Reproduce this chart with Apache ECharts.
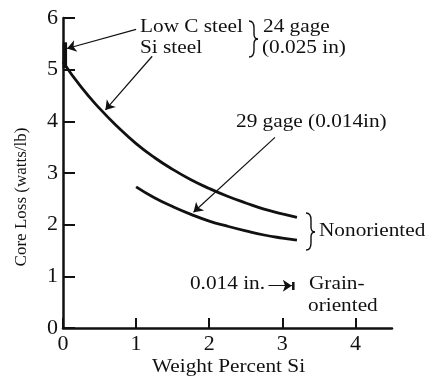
<!DOCTYPE html>
<html>
<head>
<meta charset="utf-8">
<script src="https://cdn.jsdelivr.net/npm/echarts@6/dist/echarts.min.js"></script>
<style>
  html, body { margin: 0; padding: 0; background: #fff; }
  #chart { width: 428px; height: 378px; }
</style>
</head>
<body>
<div id="chart"></div>
<script>
// Core loss vs. silicon content, 24 gage (0.025 in) sheet
const siPct24 = [0, 0.25, 0.5, 0.75, 1.0, 1.25, 1.5, 1.75, 2.0, 2.25, 2.5, 2.75, 3.0, 3.2];
const loss24  = [5.15, 4.66, 4.25, 3.89, 3.57, 3.30, 3.07, 2.87, 2.70, 2.55, 2.42, 2.30, 2.21, 2.14];

// Core loss vs. silicon content, 29 gage (0.014 in) sheet
const siPct29 = [1.0, 1.25, 1.5, 1.75, 2.0, 2.25, 2.5, 2.75, 3.0, 3.2];
const loss29  = [2.73, 2.52, 2.35, 2.20, 2.07, 1.97, 1.88, 1.80, 1.74, 1.70];

// Low-carbon steel loss range at 0 % Si
const lowCRange = [[0.025, 5.03], [0.025, 5.53]];

// Grain-oriented 0.014 in. point marker
const grainBar = [[3.15, 0.735], [3.15, 0.89]];

// Leader arrows [from, to] in data units
const arrowLowC  = [[1.0, 5.78], [0.055, 5.41]];
const arrowSi    = [[1.22, 5.26], [0.58, 4.22]];
const arrow29    = [[2.90, 3.69], [1.785, 2.24]];
const arrowGrain = [[2.81, 0.82], [3.13, 0.82]];

const xTicks = [0, 1, 2, 3, 4];
const yTicks = [0, 1, 2, 3, 4, 5, 6];

const ink = '#111';
const serif = '"Liberation Serif", "Times New Roman", serif';

function pairs(xs, ys) { return xs.map((x, i) => [x, ys[i]]); }

function label(text, x, y, opts) {
  opts = opts || {};
  return {
    type: 'text', x: x, y: y,
    scaleX: opts.scaleX || 1.12,
    rotation: opts.rotation || 0,
    style: {
      text: text,
      font: (opts.size || 19) + 'px ' + serif,
      fill: ink,
      align: opts.align || 'left',
      verticalAlign: 'middle'
    }
  };
}

// Curly brace "}" built from curve and line pieces
function brace(x0, t, m, b) {
  const st = { stroke: ink, fill: null, lineWidth: 1.4 };
  const bz = (x1, y1, c1x, c1y, c2x, c2y, x2, y2) => ({
    type: 'bezierCurve',
    shape: { x1: x1, y1: y1, cpx1: c1x, cpy1: c1y, cpx2: c2x, cpy2: c2y, x2: x2, y2: y2 },
    style: st
  });
  const ln = (x1, y1, x2, y2) => ({ type: 'line', shape: { x1: x1, y1: y1, x2: x2, y2: y2 }, style: st });
  return {
    type: 'group',
    children: [
      bz(x0, t, x0 + 4, t, x0 + 5, t + 3, x0 + 5, t + 7),
      ln(x0 + 5, t + 7, x0 + 5, m - 5),
      bz(x0 + 5, m - 5, x0 + 5, m - 2, x0 + 6, m, x0 + 9, m),
      bz(x0 + 9, m, x0 + 6, m, x0 + 5, m + 2, x0 + 5, m + 5),
      ln(x0 + 5, m + 5, x0 + 5, b - 7),
      bz(x0 + 5, b - 7, x0 + 5, b - 3, x0 + 4, b, x0, b)
    ]
  };
}

const chart = echarts.init(document.getElementById('chart'), null, { renderer: 'canvas' });

const arrowSeries = (coords) => ({
  type: 'lines',
  coordinateSystem: 'cartesian2d',
  symbol: ['none', 'arrow'],
  symbolSize: 9,
  silent: true,
  z: 5,
  lineStyle: { color: ink, width: 1.2, opacity: 1 },
  data: [{ coords: coords }]
});

chart.setOption({
  backgroundColor: '#fff',
  animation: false,
  grid: { left: 63, right: 36, top: 18, bottom: 50, containLabel: false },
  xAxis: {
    type: 'value', min: 0, max: 4.5,
    axisLine: { lineStyle: { color: ink, width: 2.5 } },
    axisTick: { inside: true, length: 10, lineStyle: { color: ink, width: 2 }, customValues: xTicks },
    axisLabel: { customValues: xTicks, color: ink, fontFamily: serif, fontSize: 22, margin: 5 },
    splitLine: { show: false }
  },
  yAxis: {
    type: 'value', min: 0, max: 6, interval: 1,
    axisLine: { show: true, lineStyle: { color: ink, width: 2.5 } },
    axisTick: { show: true, inside: true, length: 12, lineStyle: { color: ink, width: 2 }, customValues: yTicks },
    axisLabel: { customValues: yTicks, color: ink, fontFamily: serif, fontSize: 22, margin: 5 },
    splitLine: { show: false }
  },
  series: [
    {
      name: '24 gage', type: 'line', smooth: true, showSymbol: false, clip: false, z: 4,
      lineStyle: { color: ink, width: 2.8 },
      data: pairs(siPct24, loss24)
    },
    {
      name: '29 gage', type: 'line', smooth: true, showSymbol: false, clip: false, z: 4,
      lineStyle: { color: ink, width: 2.8 },
      data: pairs(siPct29, loss29)
    },
    {
      name: 'Low C steel', type: 'line', showSymbol: false, clip: false, z: 4,
      lineStyle: { color: ink, width: 4.5, cap: 'butt' },
      data: lowCRange
    },
    {
      name: 'Grain-oriented', type: 'line', showSymbol: false, clip: false, z: 4,
      lineStyle: { color: ink, width: 2.5, cap: 'butt' },
      data: grainBar
    },
    arrowSeries(arrowLowC),
    arrowSeries(arrowSi),
    arrowSeries(arrow29),
    arrowSeries(arrowGrain)
  ],
  graphic: [
    label('Low C steel', 140, 27),
    label('Si steel', 140, 48),
    brace(249, 21, 39, 57),
    label('24 gage', 263, 27),
    label('(0.025 in)', 262, 48),
    label('29 gage (0.014in)', 236, 122, { scaleX: 1.12 }),
    brace(306, 213, 232, 250),
    label('Nonoriented', 319, 231),
    label('0.014 in.', 265, 284, { align: 'right' }),
    label('Grain-', 309, 284),
    label('oriented', 308, 306),
    label('Weight Percent Si', 228.5, 367, { align: 'center' }),
    label('Core Loss (watts/lb)', 22, 197, { align: 'center', size: 17, scaleX: 1, rotation: Math.PI / 2 })
  ]
});
</script>
</body>
</html>
